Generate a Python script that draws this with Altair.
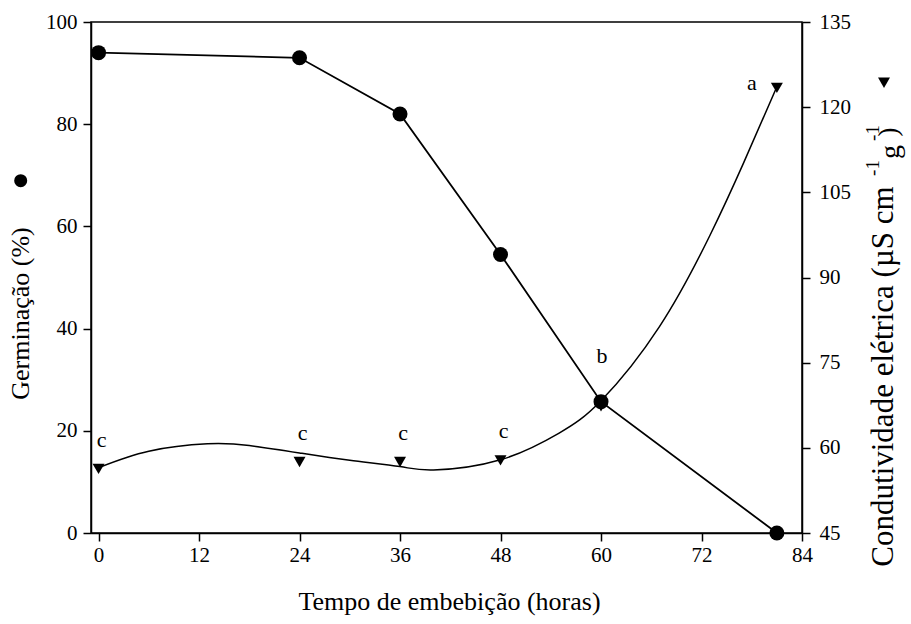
import altair as alt
import pandas as pd

# ---- data ----
hours = [0, 24, 36, 48, 60, 81]
germination = [94, 93, 82, 54.5, 25.7, 0]
conductivity = [56.3, 57.5, 57.5, 57.8, 67.3, 123.4]
letters = ["c", "c", "c", "c", "b", "a"]

# fitted curve of conductivity
curve_hours = [0, 6, 13, 18, 24, 30, 36, 40, 48, 55, 60, 67, 73, 77, 81]
curve_values = [56.5, 59.4, 60.7, 60.4, 59.1, 57.8, 56.7, 56.1, 57.9, 62.6, 68.3, 81.4, 97.4, 110.1, 123.6]

x_ticks = [0, 12, 24, 36, 48, 60, 72, 84]
left_ticks = [0, 20, 40, 60, 80, 100]
right_ticks = [45, 60, 75, 90, 105, 120, 135]

pts = pd.DataFrame({"h": hours, "g": germination, "c": conductivity, "lab": letters})
curve = pd.DataFrame({"h": curve_hours, "c": curve_values})

FONT = "Liberation Serif"
W, H = 711, 511

xscale = alt.Scale(domain=[-0.9, 84], nice=False, zero=False)
xaxis = alt.Axis(values=x_ticks, title="Tempo de embebição (horas)", labelFlush=False,
                 titleX=358, titleY=76, titleBaseline="alphabetic", titleAlign="center")
X = alt.X("h:Q", scale=xscale, axis=xaxis)

lscale = alt.Scale(domain=[0, 100], nice=False, zero=False)
rscale = alt.Scale(domain=[45, 135], nice=False, zero=False)

raxis = alt.Axis(orient="right", values=right_ticks, title="Condutividade elétrica (µS cm",
                 titleAngle=270, titleX=90, titleY=354, titleAlign="center",
                 titleBaseline="alphabetic", labelPadding=9, titleFontSize=31)
laxis = alt.Axis(orient="left", values=left_ticks, title="Germinação (%)",
                 titleAngle=270, titleX=-62.5, titleY=291, titleAlign="center",
                 titleBaseline="alphabetic", labelPadding=6)
YR = alt.Y("c:Q", scale=rscale, axis=raxis)
YL = alt.Y("g:Q", scale=lscale, axis=laxis)

# ----- conductivity group (right axis) -----
c_curve = alt.Chart(curve).mark_line(color="black", strokeWidth=1.5, interpolate="natural").encode(
    x=X, y=YR)
c_pts = alt.Chart(pts).mark_point(shape="triangle-down", filled=True, color="black",
                                   size=144, opacity=1).encode(x=X, y=YR)

lab_c = alt.Chart(pts).transform_filter(alt.datum.lab == "c").mark_text(
    fontSize=22, font=FONT, dy=-29, dx=3, color="black").encode(x=X, y=YR, text="lab:N")
lab_b = alt.Chart(pts).transform_filter(alt.datum.lab == "b").mark_text(
    fontSize=22, font=FONT, dy=-50, dx=1, color="black").encode(x=X, y=YR, text="lab:N")
lab_a = alt.Chart(pts).transform_filter(alt.datum.lab == "a").mark_text(
    fontSize=22, font=FONT, dy=-5, dx=-25, color="black").encode(x=X, y=YR, text="lab:N")

# pieces of the right title (superscripts etc.) and its symbol
def piece(txt, px, py, size):
    return alt.Chart(pd.DataFrame({"t": [txt]})).mark_text(
        font=FONT, fontSize=size, angle=270, align="center", baseline="middle", color="black"
    ).encode(x=alt.value(px), y=alt.value(py), text="t:N")

sup1 = piece("-1", 781.5, 146, 19)
sup2 = piece("-1", 781.5, 111, 19)
gpiece = piece("g", 800, 130, 28)
paren = piece(")", 797.5, 110, 28)
tri_leg = alt.Chart(pd.DataFrame({"k": [1]})).mark_point(
    shape="triangle-down", filled=True, color="black", size=144, opacity=1).encode(
    x=alt.value(793), y=alt.value(60.7))

right = alt.layer(c_curve, c_pts, lab_c, lab_b, lab_a, sup1, sup2, gpiece, paren, tri_leg)

# ----- germination group (left axis) -----
g_line = alt.Chart(pts).mark_line(color="black", strokeWidth=1.8).encode(x=X, y=YL)
g_pts = alt.Chart(pts).mark_point(shape="circle", filled=True, color="black",
                                   size=225, opacity=1).encode(x=X, y=YL)
circ_leg = alt.Chart(pd.DataFrame({"k": [1]})).mark_point(
    shape="circle", filled=True, color="black", size=170, opacity=1).encode(
    x=alt.value(-70.3), y=alt.value(158.7))

left = alt.layer(g_line, g_pts, circ_leg)

chart = alt.layer(right, left).resolve_scale(y="independent").properties(
    width=W, height=H,
    autosize=alt.AutoSizeParams(type="none"),
    padding={"left": 91, "top": 22, "right": 109, "bottom": 91},
    background="white",
).configure_view(stroke="black", strokeWidth=1.5).configure_axis(
    grid=False, domainColor="black", domainWidth=1.5, tickColor="black", tickWidth=1.5,
    tickSize=8, labelFont=FONT, labelFontSize=21, labelColor="black",
    titleFont=FONT, titleFontSize=26, titleFontWeight="normal", titleColor="black",
).configure_axisX(labelPadding=3)

chart.save("out.html", embed_options={"renderer": "svg", "actions": False})
